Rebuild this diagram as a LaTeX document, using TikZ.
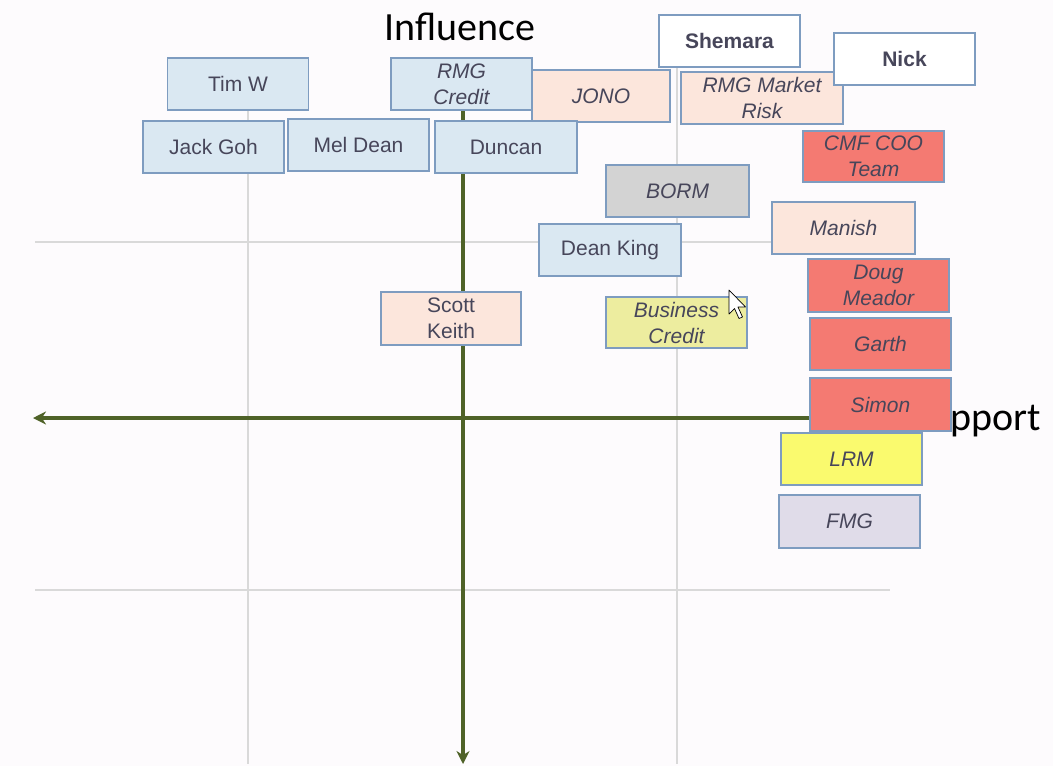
\documentclass[tikz,border=0pt]{standalone}
\usepackage{fontspec}
\setmainfont{Liberation Sans}
\newfontfamily\calib{Carlito}
\usetikzlibrary{arrows.meta}
\definecolor{bgc}{HTML}{FDFBFD}
\definecolor{gridc}{HTML}{D9D9D9}
\definecolor{axisc}{HTML}{4F6228}
\definecolor{bord}{HTML}{7E9CC0}
\definecolor{txtc}{HTML}{47465A}
\definecolor{lblue}{HTML}{DAE8F2}
\definecolor{peach}{HTML}{FCE6DC}
\definecolor{redf}{HTML}{F47A72}
\definecolor{grayf}{HTML}{D3D3D3}
\definecolor{paley}{HTML}{EDED9F}
\definecolor{yel}{HTML}{FAFA6E}
\definecolor{lav}{HTML}{E0DCE9}
\tikzset{
  box/.style={draw=bord, line width=1.3pt, minimum width=141pt, minimum height=52pt,
    inner sep=0pt, align=center, text=txtc, font=\fontsize{21}{26}\selectfont},
  ibox/.style={box, font=\fontsize{21}{26}\selectfont\itshape},
  bbox/.style={box, font=\fontsize{21}{26}\selectfont\bfseries},
  gridline/.style={draw=gridc, line width=1.2pt},
  axis/.style={draw=axisc, line width=3.5pt, -{Stealth[length=13pt,width=13pt]}},
  biglabel/.style={font=\calib\fontsize{40}{46}\selectfont, text=black, inner sep=0pt}
}
\begin{document}
\begin{tikzpicture}[x=1pt,y=-1pt]
\useasboundingbox[fill=bgc] (0,0) rectangle (1053,766);
% grid
\coordinate (g1t) at (248,68); \coordinate (g1b) at (248,764);
\coordinate (g2t) at (677,68); \coordinate (g2b) at (677,764);
\coordinate (h1l) at (35,242); \coordinate (h1r) at (890,242);
\coordinate (h2l) at (35,590); \coordinate (h2r) at (890,590);
\draw[gridline] (g1t) -- (g1b);
\draw[gridline] (g2t) -- (g2b);
\draw[gridline] (h1l) -- (h1r);
\draw[gridline] (h2l) -- (h2r);
% axes
\coordinate (yt) at (463,70); \coordinate (yb) at (463,764);
\coordinate (xr) at (830,418); \coordinate (xl) at (33,418);
\draw[axis] (yt) -- (yb);
\draw[axis] (xr) -- (xl);
% labels
\node[biglabel, anchor=base] (infl) at (460,40) {Influence};
\node[biglabel, anchor=base east] (supp) at (1041,430) {Support};
% boxes
\node[box, fill=lblue] (timw) at (238,84) {Tim W};
\node[ibox, fill=peach, minimum width=138pt] (jono) at (601,96) {JONO};
\node[ibox, fill=lblue] (rmgc) at (461.5,84) {RMG\\Credit};
\node[bbox, fill=white] (shem) at (729.5,41) {Shemara};
\node[ibox, fill=peach, minimum width=162pt] (rmgm) at (762,98) {RMG Market\\Risk};
\node[bbox, fill=white] (nick) at (904.5,59) {Nick};
\node[box, fill=lblue] (jack) at (213.5,147) {Jack Goh};
\node[box, fill=lblue] (mel) at (358.5,145) {Mel Dean};
\node[box, fill=lblue, minimum width=142pt] (dunc) at (506,147) {Duncan};
\node[ibox, fill=redf, minimum height=51pt] (cmf) at (873.5,156.5) {CMF COO\\Team};
\node[ibox, fill=grayf, minimum width=143pt] (borm) at (677.5,191) {BORM};
\node[ibox, fill=peach, minimum width=143pt] (man) at (843.5,228) {Manish};
\node[box, fill=lblue, minimum width=142pt] (dean) at (610,250) {Dean King};
\node[ibox, fill=redf, minimum height=53pt] (doug) at (878.5,285.5) {Doug\\Meador};
\node[box, fill=peach, minimum width=140pt, minimum height=53pt] (scott) at (451,318.5) {Scott\\Keith};
\node[ibox, fill=paley, minimum height=51pt] (busc) at (676.5,322.5) {Business\\Credit};
\node[ibox, fill=redf] (garth) at (880.5,344) {Garth};
\node[ibox, fill=redf, minimum height=53pt] (simon) at (880.5,404.5) {Simon};
\node[ibox, fill=yel] (lrm) at (851.5,459) {LRM};
\node[ibox, fill=lav, minimum height=53pt] (fmg) at (849.5,521.5) {FMG};
% mouse cursor
\draw[fill=white, draw=black, line width=0.7pt, line join=round]
  (729,290) -- (729,314) -- (734.5,308.5) -- (739,318.5) -- (742.5,317) -- (738,307) -- (745.5,307) -- cycle;
\end{tikzpicture}
\end{document}
